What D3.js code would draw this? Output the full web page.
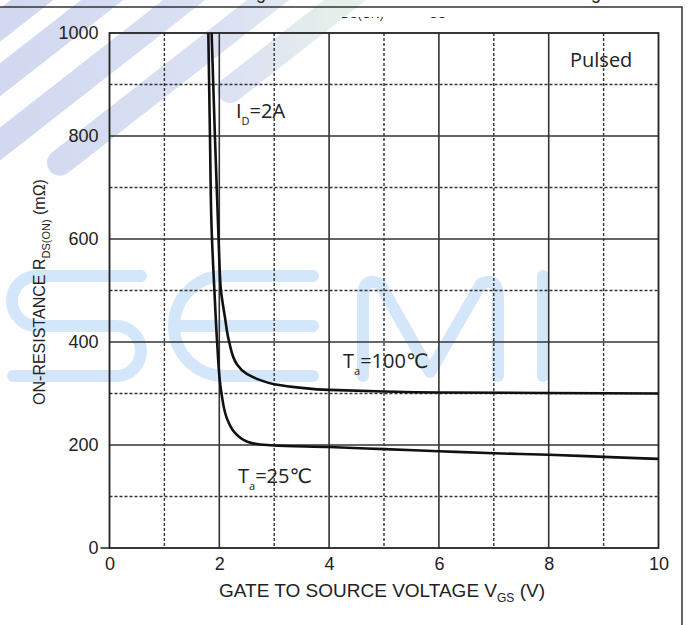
<!DOCTYPE html>
<html>
<head>
<meta charset="utf-8">
<script src="https://cdn.jsdelivr.net/npm/d3@7"></script>
<style>
  body { margin: 0; background: #fff; }
  svg { display: block; }
</style>
</head>
<body>
<svg id="chart" width="688" height="625"></svg>
<script>
// RDS(ON) vs VGS, two temperatures

var vgs25 = [1.80, 1.83, 1.86, 1.92, 1.96, 2.04, 2.16, 2.32, 2.5, 2.75, 3, 4, 5, 6, 7, 8, 9, 10];
var ron25 = [1000, 800, 620, 480, 400, 300, 246, 220, 207, 201, 199, 196, 192, 188, 184, 181, 177, 173];

var vgs100 = [1.86, 1.92, 1.98, 2.0, 2.03, 2.1, 2.18, 2.32, 2.5, 2.75, 3, 3.5, 4, 5, 6, 8, 10];
var ron100 = [1000, 800, 620, 560, 500, 450, 400, 357, 338, 326, 318, 311, 307, 304, 302, 301, 300];

var xTicks = [0, 2, 4, 6, 8, 10];
var yTicks = [0, 200, 400, 600, 800, 1000];

var svg = d3.select("#chart");
var plotL = 109.5, plotR = 658.5, plotT = 33, plotB = 548;

var x = d3.scaleLinear().domain([0, 10]).range([plotL, plotR]);
var y = d3.scaleLinear().domain([0, 1000]).range([plotB, plotT]);

var axisFont = "'Liberation Sans', Arial, sans-serif";
var noteFont = "'Open Sans', 'DejaVu Sans', sans-serif";

// watermark: diagonal stripes top-left
var defs = svg.append("defs");
var grad = defs.append("linearGradient").attr("id", "stripeGrad")
  .attr("gradientUnits", "userSpaceOnUse")
  .attr("x1", 0).attr("y1", 0).attr("x2", 340).attr("y2", 0);
grad.append("stop").attr("offset", 0).attr("stop-color", "#d1d8f0");
grad.append("stop").attr("offset", 0.7).attr("stop-color", "#dce2f3");
grad.append("stop").attr("offset", 1).attr("stop-color", "#e6f0ea");

var ang = 38 * Math.PI / 180;
var stripeCross = [13, 83, 165, 249, 326];
var stripeEnd = [-30, -30, -10, 60, 230];
var wm = svg.append("g");
stripeCross.forEach(function(xc, i) {
  var xe = stripeEnd[i];
  var ye = 15 + (xc - xe) * Math.tan(ang);
  var xs = xc + 40, ys = 15 - 40 * Math.tan(ang);
  wm.append("line")
    .attr("x1", xe).attr("y1", ye).attr("x2", xs).attr("y2", ys)
    .attr("stroke", "url(#stripeGrad)").attr("stroke-width", 26)
    .attr("stroke-linecap", "round");
});

// watermark: SEMI outline letters
var semi = d3.path();
// S
semi.moveTo(141, 276); semi.lineTo(37, 276);
semi.arc(37, 301, 25, -Math.PI / 2, Math.PI / 2, true);
semi.lineTo(116, 326);
semi.arc(116, 351, 25, -Math.PI / 2, Math.PI / 2, false);
semi.lineTo(13, 376);
// E
semi.moveTo(313, 276); semi.lineTo(224, 276);
semi.arc(224, 326, 50, -Math.PI / 2, Math.PI / 2, true);
semi.lineTo(313, 376);
semi.moveTo(174, 326); semi.lineTo(313, 326);
// M
semi.moveTo(363, 376); semi.lineTo(363, 298);
semi.quadraticCurveTo(363, 276, 380, 284);
semi.lineTo(430, 372);
semi.lineTo(481, 284);
semi.quadraticCurveTo(498, 276, 498, 298);
semi.lineTo(498, 376);
// I
semi.moveTo(543, 276); semi.lineTo(543, 376);
wm.append("path").attr("d", semi.toString())
  .attr("fill", "none").attr("stroke", "#d4e7fa").attr("stroke-width", 12)
  .attr("stroke-linecap", "round").attr("stroke-linejoin", "round");

// outer frame
svg.append("path").attr("d", "M0,7H682V625")
  .attr("fill", "none").attr("stroke", "#333").attr("stroke-width", 1.5);

// clipped header remnants (title cut off at top of the crop)
defs.append("clipPath").attr("id", "topClip")
  .append("rect").attr("x", 0).attr("y", 0).attr("width", 688).attr("height", 6);
var ttl = svg.append("g").attr("clip-path", "url(#topClip)")
  .attr("font-family", axisFont).attr("font-size", 18).attr("fill", "#222");
ttl.append("text").attr("x", 276).attr("y", -1).attr("text-anchor", "end").text("On-Resistance Change");
ttl.append("text").attr("x", 611).attr("y", -1).attr("text-anchor", "end").text("with Gate-Source Voltage");

defs.append("clipPath").attr("id", "headClip")
  .append("rect").attr("x", 0).attr("y", 17).attr("width", 688).attr("height", 8);
var head = svg.append("text").attr("clip-path", "url(#headClip)")
  .attr("font-family", axisFont).attr("font-size", 18).attr("fill", "#222")
  .attr("y", 12);
head.append("tspan").attr("x", 328).text("R");
head.append("tspan").attr("dy", 6).attr("font-size", 12).text("DS(ON)");
head.append("tspan").attr("dy", -6).text("  vs.  V");
head.append("tspan").attr("dy", 6).attr("font-size", 12).text("GS");

// grid
var g = svg.append("g");
d3.range(1, 10).forEach(function(v) {
  g.append("line").attr("x1", x(v)).attr("x2", x(v)).attr("y1", plotT).attr("y2", plotB)
    .attr("stroke", "#333")
    .attr("stroke-width", v % 2 ? 1.4 : 1.6)
    .attr("stroke-dasharray", v % 2 ? "3,2" : null);
});
d3.range(100, 1000, 100).forEach(function(v) {
  g.append("line").attr("x1", plotL).attr("x2", plotR).attr("y1", y(v)).attr("y2", y(v))
    .attr("stroke", "#333")
    .attr("stroke-width", (v / 100) % 2 ? 1.4 : 1.6)
    .attr("stroke-dasharray", (v / 100) % 2 ? "3,2" : null);
});
g.append("rect").attr("x", plotL).attr("y", plotT)
  .attr("width", plotR - plotL).attr("height", plotB - plotT)
  .attr("fill", "none").attr("stroke", "#222").attr("stroke-width", 1.8);
g.append("line").attr("x1", plotL - 9).attr("x2", plotL).attr("y1", y(0)).attr("y2", y(0))
  .attr("stroke", "#222").attr("stroke-width", 1.5);

// axes labels
var xAxis = svg.append("g").attr("transform", "translate(0," + plotB + ")")
  .call(d3.axisBottom(x).tickValues(xTicks).tickSize(0).tickPadding(9));
var yAxis = svg.append("g").attr("transform", "translate(" + plotL + ",0)")
  .call(d3.axisLeft(y).tickValues(yTicks).tickFormat(d3.format("d")).tickSize(0).tickPadding(11));
[xAxis, yAxis].forEach(function(a) {
  a.select(".domain").remove();
  a.selectAll("text").attr("font-family", axisFont).attr("font-size", 18).attr("fill", "#222");
});

var xt = svg.append("text").attr("x", 382).attr("y", 597).attr("text-anchor", "middle")
  .attr("font-family", axisFont).attr("font-size", 19).attr("fill", "#222");
xt.append("tspan").text("GATE TO SOURCE VOLTAGE V");
xt.append("tspan").attr("dy", 5).attr("font-size", 12).text("GS");
xt.append("tspan").attr("dy", -5).text(" (V)");

var yt = svg.append("text").attr("transform", "translate(45,292) rotate(-90)")
  .attr("text-anchor", "middle")
  .attr("font-family", axisFont).attr("font-size", 16).attr("fill", "#222");
yt.append("tspan").text("ON-RESISTANCE R");
yt.append("tspan").attr("dy", 5).attr("font-size", 11).text("DS(ON)");
yt.append("tspan").attr("dy", -5).text(" (m\u03a9)");

// curves
var line = d3.line().x(function(d) { return x(d[0]); }).y(function(d) { return y(d[1]); })
  .curve(d3.curveMonotoneY);
[[vgs25, ron25], [vgs100, ron100]].forEach(function(s) {
  var pts = s[0].map(function(v, i) { return [v, s[1][i]]; });
  svg.append("path").attr("d", line(pts))
    .attr("fill", "none").attr("stroke", "#111").attr("stroke-width", 2.6);
});

// annotations
function note(xp, yp, main, sub, rest) {
  var t = svg.append("text").attr("x", xp).attr("y", yp)
    .attr("font-family", noteFont).attr("font-size", 20).attr("fill", "#222");
  t.append("tspan").text(main);
  if (sub) t.append("tspan").attr("dy", 7).attr("font-size", 11).text(sub);
  if (rest) t.append("tspan").attr("dy", sub ? -7 : 0).text(rest);
}
note(236, 118, "I", "D", "=2A");
note(343, 368, "T", "a", "=100\u2103");
note(238, 483, "T", "a", "=25\u2103");
note(570, 67, "Pulsed");
</script>
</body>
</html>
